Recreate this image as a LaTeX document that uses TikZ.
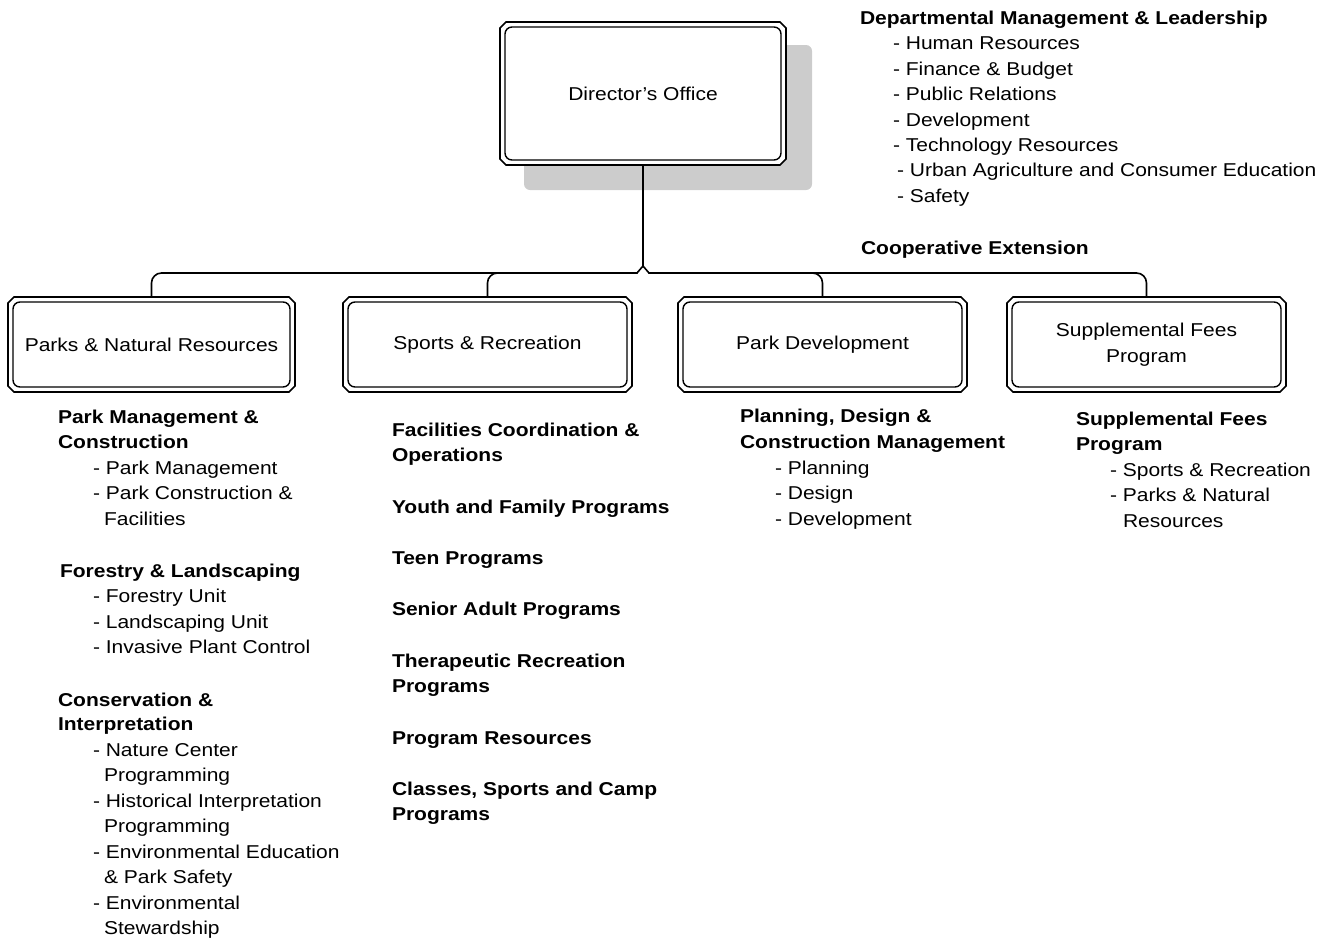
\documentclass[tikz,border=0pt]{standalone}
\usepackage{fontspec}
\setmainfont{Liberation Sans}[FakeStretch=1.13]
\usetikzlibrary{backgrounds,calc}
\tikzset{
 every node/.style={font=\fontsize{18.6}{25.4}\selectfont},
 txt/.style={anchor=base west, inner sep=0pt, outer sep=0pt},
 hd/.style={txt, font=\fontsize{18.6}{25.4}\selectfont\bfseries},
 unitbox/.style={draw, line width=1.4pt, rounded corners=7pt, fill=white, outer sep=5pt, inner sep=0pt, align=center, minimum height=85pt},
 chamf/.style={draw, line width=1.6pt, fill=white, line join=miter},
 conn/.style={draw, line width=1.6pt, line join=round, line cap=round},
 shadowfill/.style={fill=black!20, rounded corners=6pt}
}
\newcommand\outerframe[1]{%
 \draw[chamf] ([xshift=6pt]#1.north west) -- ([xshift=-6pt]#1.north east) -- ([yshift=-6pt]#1.north east) -- ([yshift=6pt]#1.south east) -- ([xshift=-6pt]#1.south east) -- ([xshift=6pt]#1.south west) -- ([yshift=6pt]#1.south west) -- ([yshift=-6pt]#1.north west) -- cycle;}
\begin{document}
\begin{tikzpicture}[x=1pt,y=-1pt]
\useasboundingbox (0,0) rectangle (1330,940);

% boxes
\node[unitbox, minimum width=276pt, minimum height=133pt] (dir) at (643,93.5) {Director’s Office};
\node[unitbox, minimum width=277pt] (b1) at (151.5,344.5) {Parks \& Natural Resources};
\node[unitbox, minimum width=279pt] (b2) at (487.5,344.5) {Sports \& Recreation};
\node[unitbox, minimum width=279pt] (b3) at (822.5,344.5) {Park Development};
\node[unitbox, minimum width=269pt] (b4) at (1146.5,344.5) {Supplemental Fees\\Program};

\begin{scope}[on background layer]
 \fill[shadowfill] ([shift={(24pt,-23pt)}]dir.north west) rectangle ([shift={(26pt,-25pt)}]dir.south east);
 \outerframe{dir}
 \outerframe{b1}
 \outerframe{b2}
 \outerframe{b3}
 \outerframe{b4}
\end{scope}

% connectors
\coordinate (bus) at (643,266);
\coordinate (jl) at (637,273);
\coordinate (jr) at (649,273);
\draw[conn] (dir.south) -- (bus);
\draw[conn] (jl) -- (bus) -- (jr);
\draw[conn, rounded corners=10pt] (b1.north) |- (jl);
\draw[conn, rounded corners=10pt] (b2.north) |- (jl);
\draw[conn, rounded corners=10pt] (b3.north) |- (jr);
\draw[conn, rounded corners=10pt] (b4.north) |- (jr);

% top right
\node[hd] (r0) at (860,24.5) {Departmental Management \& Leadership};
\node[txt] (r1) at (893,49.9) {- Human Resources};
\node[txt] (r2) at (893,75.3) {- Finance \& Budget};
\node[txt] (r3) at (893,100.7) {- Public Relations};
\node[txt] (r4) at (893,126.1) {- Development};
\node[txt] (r5) at (893,151.5) {- Technology Resources};
\node[txt] (r6) at (897,176.9) {- Urban Agriculture and Consumer Education};
\node[txt] (r7) at (897,202.3) {- Safety};
\node[hd] (r8) at (861,254) {Cooperative Extension};

% column 1
\node[hd] (a1) at (58,423) {Park Management \&};
\node[hd] (a2) at (58,448.5) {Construction};
\node[txt] (a3) at (93,474) {- Park Management};
\node[txt] (a4) at (93,499.5) {- Park Construction \&};
\node[txt] (a5) at (104,525) {Facilities};
\node[hd] (a6) at (60,577) {Forestry \& Landscaping};
\node[txt] (a7) at (93,602.5) {- Forestry Unit};
\node[txt] (a8) at (93,628) {- Landscaping Unit};
\node[txt] (a9) at (93,653.5) {- Invasive Plant Control};
\node[hd] (a10) at (58,706) {Conservation \&};
\node[hd] (a11) at (58,730.5) {Interpretation};
\node[txt] (a12) at (93,756) {- Nature Center};
\node[txt] (a13) at (104,781.5) {Programming};
\node[txt] (a14) at (93,807) {- Historical Interpretation};
\node[txt] (a15) at (104,832.5) {Programming};
\node[txt] (a16) at (93,858) {- Environmental Education};
\node[txt] (a17) at (104,883.5) {\& Park Safety};
\node[txt] (a18) at (93,909) {- Environmental};
\node[txt] (a19) at (104,934.5) {Stewardship};

% column 2
\node[hd] (c1) at (392,436) {Facilities Coordination \&};
\node[hd] (c2) at (392,461.5) {Operations};
\node[hd] (c3) at (392,513) {Youth and Family Programs};
\node[hd] (c4) at (392,564) {Teen Programs};
\node[hd] (c5) at (392,615) {Senior Adult Programs};
\node[hd] (c6) at (392,667) {Therapeutic Recreation};
\node[hd] (c7) at (392,692) {Programs};
\node[hd] (c8) at (392,744) {Program Resources};
\node[hd] (c9) at (392,795) {Classes, Sports and Camp};
\node[hd] (c10) at (392,820) {Programs};

% column 3
\node[hd] (d1) at (740,422) {Planning, Design \&};
\node[hd] (d2) at (740,448) {Construction Management};
\node[txt] (d3) at (775,474) {- Planning};
\node[txt] (d4) at (775,499.5) {- Design};
\node[txt] (d5) at (775,525) {- Development};

% column 4
\node[hd] (e1) at (1076,425) {Supplemental Fees};
\node[hd] (e2) at (1076,450) {Program};
\node[txt] (e3) at (1110,476) {- Sports \& Recreation};
\node[txt] (e4) at (1110,501.5) {- Parks \& Natural};
\node[txt] (e5) at (1123,527) {Resources};
\end{tikzpicture}
\end{document}
